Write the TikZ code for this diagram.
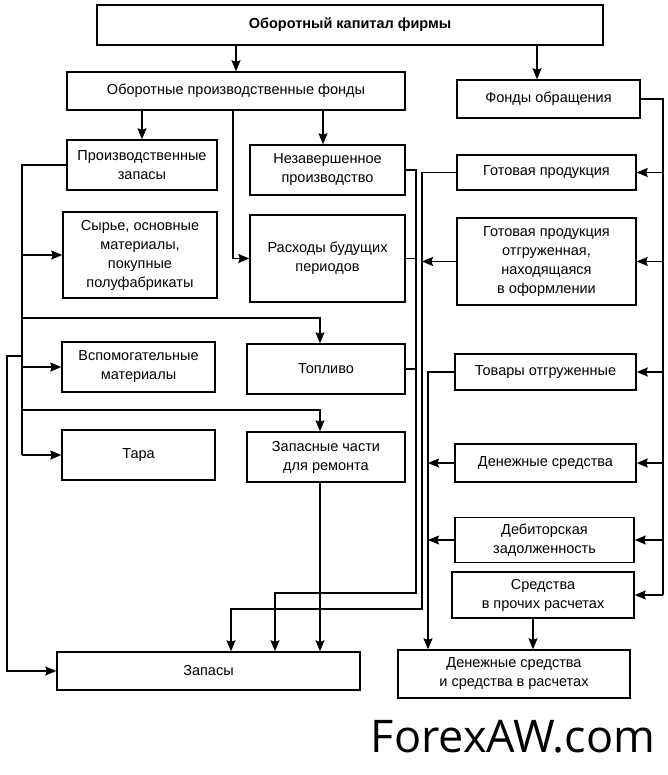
\documentclass[tikz,border=0pt]{standalone}
\usepackage{fontspec}
\setmainfont{Liberation Sans}
\newfontfamily\wmfont{Open Sans}
\usetikzlibrary{arrows.meta}

\begin{document}
\begin{tikzpicture}[
  x=1pt,y=-1pt,
  every node/.style={scale=1.0},
  box/.style 2 args={draw,line width=1.4pt,align=center,inner sep=0pt,
    minimum width=#1,minimum height=#2,font=\fontsize{14.5}{19}\selectfont},
  link/.style={line width=1.2pt},
  arr/.style={link,-{Stealth[length=11pt,width=9pt,inset=1.5pt]}},
]
\useasboundingbox (0,0) rectangle (668,775);

\node (kap) [box={506pt}{40pt},font=\fontsize{14.5}{19}\selectfont\bfseries] at (350,25) {Оборотный капитал фирмы};
\node (opf) [box={338pt}{38pt}] at (236,91) {Оборотные производственные фонды};
\node (fo)  [box={183pt}{38pt}] at (548.5,99) {Фонды обращения};

\node (pz)   [box={150pt}{50pt}] at (142,165) {Производственные\\запасы};
\node (nzp)  [box={155pt}{50pt}] at (327.5,170) {Незавершенное\\производство};
\node (syr)  [box={154pt}{86pt}] at (140,255) {Сырье, основные\\материалы,\\покупные\\полуфабрикаты};
\node (rbp)  [box={155pt}{87pt}] at (327.5,258.5) {Расходы будущих\\периодов};
\node (vsp)  [box={153pt}{50pt}] at (138.5,367) {Вспомогательные\\материалы};
\node (topl) [box={158pt}{50pt}] at (326,369) {Топливо};
\node (tara) [box={153pt}{50pt}] at (138.5,455) {Тара};
\node (zch)  [box={158pt}{50pt}] at (326,457) {Запасные части\\для ремонта};
\node (zap)  [box={303pt}{38pt}] at (208.5,671) {Запасы};

\node (gp)  [box={179pt}{35pt}] at (546.5,172.5) {Готовая продукция};
\node (gpo) [box={179pt}{87pt}] at (546.5,261.5) {Готовая продукция\\отгруженная,\\находящаяся\\в оформлении};
\node (tov) [box={181pt}{36pt}] at (545.5,372) {Товары отгруженные};
\node (den) [box={181pt}{38pt}] at (545.5,463) {Денежные средства};
\node (deb) [box={179pt}{45pt}] at (544.5,540) {Дебиторская\\задолженность};
\node (spr) [box={182pt}{46pt}] at (543,595) {Средства\\в прочих расчетах};
\node (dsr) [box={232pt}{48pt}] at (514,674) {Денежные средства\\и средства в расчетах};

\node (wm) [font=\wmfont\fontsize{45}{50}\selectfont] at (513,737) {ForexAW.com};

\coordinate (lt) at (22,0);
\coordinate (ma) at (416,0);
\coordinate (mb) at (422,0);
\coordinate (mc) at (428,0);
\coordinate (rt) at (663,0);

\draw[arr] (kap.south -| opf.north) -- (opf.north);
\draw[arr] (kap.south -| 537,0) -- (537,0 |- fo.north);
\draw[arr] (opf.south -| pz.north) -- (pz.north);
\draw[arr] (opf.south -| 323,0) -- (323,0 |- nzp.north);
\draw[arr] (opf.south -| 233,0) |- (rbp.west);

\draw[link] (pz.west) -| (tara.west -| lt);
\foreach \n in {syr,vsp,tara}
  \draw[arr] (\n.west -| lt) -- (\n.west);
\draw[arr] (lt |- 0,318) -| (320,0 |- topl.north);
\draw[arr] (lt |- 0,410) -| (320,0 |- zch.north);
\draw[arr] (lt |- 0,356) -- (7,356) |- (zap.west);

\draw[arr] (nzp.east) -| (ma |- 0,593) -| (275,0 |- zap.north);
\draw[link] (rbp.east) -- (rbp.east -| ma);
\draw[link] (topl.east) -- (topl.east -| ma);
\draw[arr] (gp.west) -| (mb |- 0,609) -| (231,0 |- zap.north);
\draw[arr] (gpo.west) -- (gpo.west -| mb);
\draw[arr] (tov.west) -| (mc |- dsr.north);
\draw[arr] (den.west) -- (den.west -| mc);
\draw[arr] (deb.west) -- (deb.west -| mc);
\draw[arr] (zch.south -| 320,0) -- (320,0 |- zap.north);

\draw[link] (fo.east) -| (spr.east -| rt);
\foreach \n in {gp,gpo,tov,den,deb,spr}
  \draw[arr] (\n.east -| rt) -- (\n.east);
\draw[arr] (spr.south -| 533,0) -- (533,0 |- dsr.north);
\end{tikzpicture}
\end{document}
